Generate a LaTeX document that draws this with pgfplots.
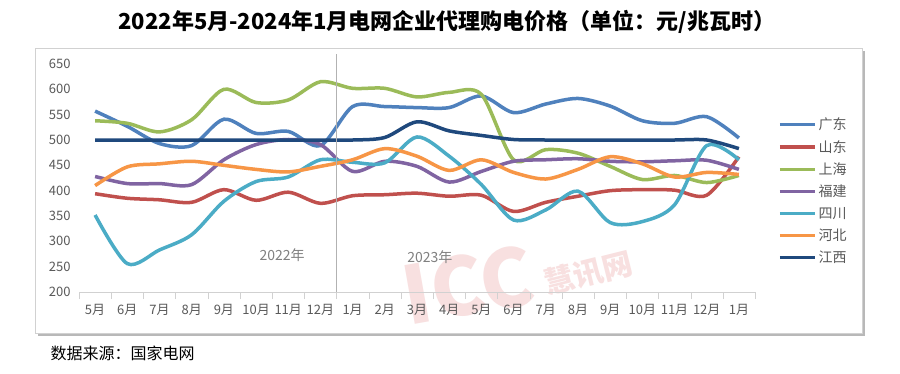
\documentclass[border=0pt]{standalone}
\usepackage{pgfplots}
\pgfplotsset{compat=1.18}
\usepackage{fontspec}
\setmainfont{Noto Sans CJK SC}
\definecolor{cgd}{HTML}{4F81BD}
\definecolor{csd}{HTML}{C0504D}
\definecolor{csh}{HTML}{9BBB59}
\definecolor{cfj}{HTML}{8064A2}
\definecolor{csc}{HTML}{4BACC6}
\definecolor{chb}{HTML}{F79646}
\definecolor{cjx}{HTML}{1F497D}
\definecolor{ctick}{HTML}{595959}
\definecolor{cwm}{HTML}{F8E0E0}
\begin{document}
\begin{tikzpicture}[x=1pt,y=1pt]
\path[use as bounding box] (0,0) rectangle (900,373);
\fill[black!28] (38,37) rectangle (865,322);
\draw[black!18, fill=white] (35,40) rectangle (862,325);
\node[text=cwm, rotate=10, font=\fontsize{80}{80}\selectfont\bfseries\itshape] at (468,88) {ICC};
\node[text=cwm, rotate=14, font=\fontsize{30}{32}\selectfont\bfseries] at (588,100) {慧讯网};
\node at (447,351) {\fontsize{22}{25}\selectfont\bfseries 2022年5月-2024年1月电网企业代理购电价格（单位：元/兆瓦时）};
\node[anchor=west] at (47,20) {\fontsize{16}{18}\selectfont 数据来源：国家电网};
\begin{axis}[
  at={(79pt,81pt)}, anchor=south west, scale only axis,
  width=676pt, height=228pt,
  xmin=-0.5, xmax=20.5, ymin=200, ymax=650,
  clip=false,
  axis x line=bottom, axis y line=left,
  x axis line style={draw=black!18, -},
  y axis line style={draw=none},
  xtick={0,...,20},
  xticklabels={5月,6月,7月,8月,9月,10月,11月,12月,1月,2月,3月,4月,5月,6月,7月,8月,9月,10月,11月,12月,1月},
  minor xtick={-0.5,0.5,...,20.5},
  ytick={200,250,...,650},
  tick align=outside,
  major tick length=0pt,
  minor tick length=7pt,
  minor x tick style={draw=black!18},
  ytick style={draw=none},
  /pgf/number format/assume math mode=true,
  yticklabel style={font=\fontsize{13}{15}\selectfont, text=ctick, xshift=-5pt},
  xticklabel style={font=\fontsize{13}{15}\selectfont, text=ctick, yshift=-9pt},
  legend style={at={(axis description cs:1.034,0.443)}, anchor=west, draw=none, fill=none,
    font=\fontsize{14}{16}\selectfont, text=ctick, row sep=5pt, inner sep=0pt},
  legend cell align=left,
  legend image code/.code={\draw[#1, line width=3.5pt] (0pt,0pt) -- (35pt,0pt);},
  every axis plot/.append style={line width=3.5pt, smooth, no markers},
]
\addplot[cgd] coordinates {(0,557)(1,527)(2,493)(3,489)(4,541)(5,513)(6,517)(7,489)(8,566)(9,566)(10,564)(11,564)(12,587)(13,554)(14,571)(15,582)(16,567)(17,538)(18,533)(19,546)(20,504)};
\addplot[csd] coordinates {(0,394)(1,385)(2,382)(3,377)(4,402)(5,381)(6,397)(7,375)(8,390)(9,392)(10,395)(11,389)(12,391)(13,359)(14,377)(15,389)(16,400)(17,402)(18,401)(19,391)(20,467)};
\addplot[csh] coordinates {(0,538)(1,533)(2,516)(3,540)(4,600)(5,574)(6,579)(7,615)(8,602)(9,602)(10,585)(11,594)(12,590)(13,461)(14,481)(15,474)(16,448)(17,422)(18,430)(19,416)(20,430)};
\addplot[cfj] coordinates {(0,428)(1,414)(2,414)(3,412)(4,461)(5,491)(6,501)(7,491)(8,438)(9,458)(10,448)(11,417)(12,438)(13,458)(14,461)(15,463)(16,458)(17,457)(18,459)(19,460)(20,442)};
\addplot[csc] coordinates {(0,352)(1,256)(2,283)(3,313)(4,379)(5,418)(6,427)(7,461)(8,456)(9,455)(10,506)(11,468)(12,412)(13,342)(14,362)(15,399)(16,337)(17,339)(18,372)(19,489)(20,461)};
\addplot[chb] coordinates {(0,410)(1,447)(2,453)(3,458)(4,450)(5,442)(6,437)(7,448)(8,461)(9,483)(10,468)(11,440)(12,461)(13,436)(14,423)(15,442)(16,467)(17,453)(18,427)(19,436)(20,432)};
\addplot[cjx] coordinates {(0,500)(1,500)(2,500)(3,500)(4,500)(5,500)(6,500)(7,500)(8,500)(9,505)(10,536)(11,518)(12,509)(13,501)(14,500)(15,500)(16,500)(17,500)(18,500)(19,500)(20,483)};
\legend{广东,山东,上海,福建,四川,河北,江西}
\draw[black!30] (axis cs:7.5,200) -- (axis cs:7.5,670);
\node[text=black!50, font=\fontsize{14}{16}\selectfont] at (axis cs:5.81,273) {2022年};
\node[text=black!50, font=\fontsize{14}{16}\selectfont] at (axis cs:10.4,269) {2023年};
\end{axis}
\end{tikzpicture}
\end{document}
